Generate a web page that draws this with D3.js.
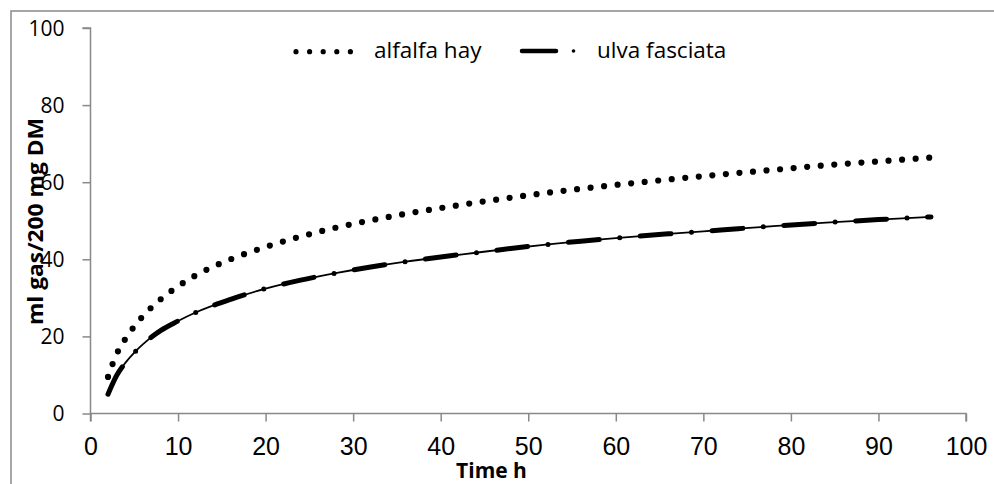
<!DOCTYPE html>
<html><head><meta charset="utf-8">
<script src="https://cdn.jsdelivr.net/npm/d3@7"></script>
<style>body{margin:0;background:#fff}svg{display:block}</style>
</head><body>
<svg id="c" width="994" height="484"></svg>
<script>
const hours = [2,3,4,5,6,8,10,12,16,20,24,28,32,36,40,44,48,52,56,60,66,72,78,84,90,96];
const alfalfaHay = [9.5,15.5,19.4,22.6,25.3,29.6,33.0,35.8,40.0,43.2,45.9,48.2,50.1,51.8,53.3,54.7,56.0,57.2,58.3,59.3,60.7,62.0,63.2,64.4,65.4,66.4];
const ulvaFasciata = [5.0,9.9,13.2,15.8,18.0,21.5,24.0,26.2,29.6,32.4,34.6,36.4,38.0,39.4,40.6,41.7,42.8,43.8,44.7,45.5,46.6,47.6,48.6,49.5,50.3,51.0];
const xTicks = [0,10,20,30,40,50,60,70,80,90,100];
const yTicks = [0,20,40,60,80,100];
const seriesNames = ["alfalfa hay","ulva fasciata"];

const svg = d3.select("#c");
const x = d3.scaleLinear().domain([0,100]).range([90.5,966]);
const y = d3.scaleLinear().domain([0,100]).range([413.5,28]);
const gray = "#898989";

// outer frame
svg.append("rect").attr("x",11).attr("y",11).attr("width",1000).attr("height",500)
  .attr("fill","none").attr("stroke",gray).attr("stroke-width",1.5);

// axes
const ya = svg.append("g").attr("transform",`translate(${x(0)},0)`)
  .call(d3.axisLeft(y).tickValues(yTicks).tickSize(8).tickPadding(18).tickFormat(d3.format("d")));
ya.selectAll("path,line").attr("stroke",gray).attr("stroke-width",1.5);
ya.select("path").attr("d",`M-8,${y(100)}H0V${y(0)}`);
ya.selectAll("text").attr("font-family","Open Sans").attr("font-size",21).attr("fill","#000").attr("dy","0.35em");

const xa = svg.append("g").attr("transform",`translate(0,${y(0)})`)
  .call(d3.axisBottom(x).tickValues(xTicks).tickSize(8).tickPadding(6).tickFormat(d3.format("d")));
xa.selectAll("path,line").attr("stroke",gray).attr("stroke-width",1.5);
xa.select("path").attr("d",`M${x(0)},8V0H${x(100)}V8`);
xa.selectAll("text").attr("font-family","Liberation Sans").attr("font-size",25).attr("fill","#000")
  .attr("dy",null).attr("y",41.5);

// titles
svg.append("text").attr("transform","translate(43,221.5) rotate(-90)")
  .attr("text-anchor","middle").attr("font-family","Open Sans").attr("font-weight","bold")
  .attr("font-size",22).attr("textLength",207).attr("lengthAdjust","spacingAndGlyphs")
  .text("ml gas/200 mg DM");
svg.append("text").attr("x",491.5).attr("y",477.5).attr("text-anchor","middle")
  .attr("font-family","Open Sans").attr("font-weight","bold").attr("font-size",21)
  .text("Time h");

// lines
const line = d3.line().x(d=>x(d[0])).y(d=>y(d[1])).curve(d3.curveMonotoneX);
const aData = hours.map((h,i)=>[h,alfalfaHay[i]]);
const uData = hours.map((h,i)=>[h,ulvaFasciata[i]]);

svg.append("path").attr("d",line(aData)).attr("fill","none").attr("stroke","#000")
  .attr("stroke-width",6.2).attr("stroke-linecap","round").attr("stroke-dasharray","0,13.6");

svg.append("path").attr("d",line(uData)).attr("fill","none").attr("stroke","#000")
  .attr("stroke-width",1.8);
svg.append("path").attr("d",line(uData)).attr("fill","none").attr("stroke","#000")
  .attr("stroke-width",5).attr("stroke-linecap","round").attr("stroke-dasharray","31,20.5,0,20.5");

// legend
const lg = svg.append("g");
lg.append("line").attr("x1",296).attr("x2",352).attr("y1",51.7).attr("y2",51.7)
  .attr("stroke","#000").attr("stroke-width",5.2).attr("stroke-linecap","round").attr("stroke-dasharray","0,13.6");
lg.append("text").attr("x",374).attr("y",57.5).attr("font-family","Open Sans").attr("font-size",22.5).text(seriesNames[0]);
lg.append("line").attr("x1",522).attr("x2",556).attr("y1",51).attr("y2",51)
  .attr("stroke","#000").attr("stroke-width",4.5).attr("stroke-linecap","round");
lg.append("circle").attr("cx",573.5).attr("cy",51).attr("r",1.8).attr("fill","#000");
lg.append("text").attr("x",597).attr("y",57.5).attr("font-family","Open Sans").attr("font-size",22.5).text(seriesNames[1]);
</script>
</body></html>
